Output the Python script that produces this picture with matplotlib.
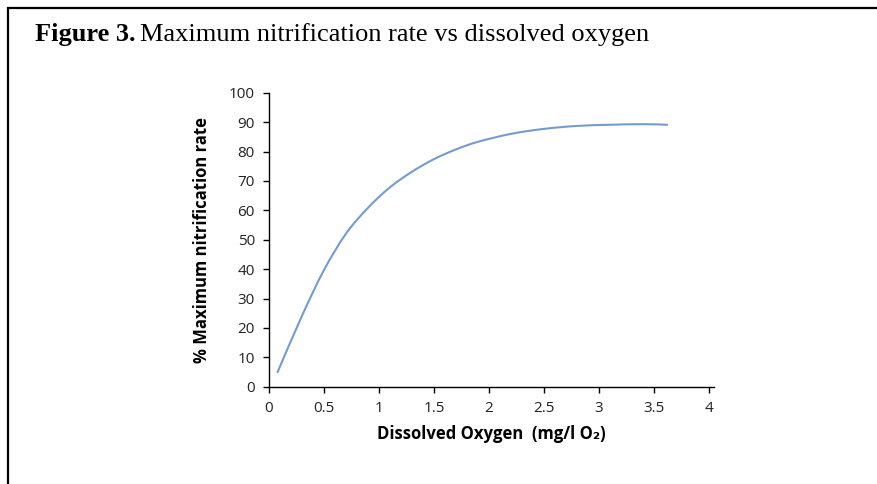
import matplotlib
matplotlib.use("Agg")
import matplotlib.pyplot as plt
from matplotlib.lines import Line2D
from matplotlib.path import Path
from matplotlib.patches import PathPatch

# Data
oxygen = [0.08, 0.3, 0.5, 0.7, 0.9, 1.1, 1.3, 1.5, 1.7, 1.9,
          2.2, 2.5, 2.8, 3.1, 3.4, 3.62]
rate = [5.0, 24.0, 39.6, 52.0, 60.8, 67.8, 73.1, 77.4, 80.7, 83.3,
        86.0, 87.7, 88.7, 89.1, 89.3, 89.1]
x_ticks = [0, 0.5, 1, 1.5, 2, 2.5, 3, 3.5, 4]
x_tick_labels = ["0", "0.5", "1", "1.5", "2", "2.5", "3", "3.5", "4"]
y_ticks = [0, 10, 20, 30, 40, 50, 60, 70, 80, 90, 100]

W, H = 878, 484
fig = plt.figure(figsize=(W / 100, H / 100), dpi=100)
fig.patch.set_facecolor("white")

# frame border (top and left)
fig.add_artist(Line2D([8 / W, 8 / W, 1.0], [0.0, 1 - 8 / H, 1 - 8 / H],
                      transform=fig.transFigure, color="black", lw=1.6,
                      solid_joinstyle="miter"))

# title
t1 = fig.text(35 / W, 1 - 35 / H, "Figure 3.", family="Liberation Serif",
              fontweight="bold", fontsize=19, va="center", ha="left")
fig.canvas.draw()
bb = t1.get_window_extent()
fig.text((bb.x1 + 5) / W, 1 - 35 / H, "Maximum nitrification rate vs dissolved oxygen",
         family="Liberation Serif", fontsize=19, va="center", ha="left")

x0_px, x4_px, xend_px = 268.8, 709.0, 714.0
y0_px, y100_px = 386.8, 92.7
ax = fig.add_axes([x0_px / W, 1 - y0_px / H, (xend_px - x0_px) / W, (y0_px - y100_px) / H])
xmax = 4 * (xend_px - x0_px) / (x4_px - x0_px)
ax.set_xlim(0, xmax)
ax.set_ylim(0, 100)

# smoothed line (Excel-style smoothing through the read points)
pts = list(zip(oxygen, rate))
n = len(pts)
verts = [pts[0]]
codes = [Path.MOVETO]
for i in range(n - 1):
    p0 = pts[i - 1] if i > 0 else pts[i]
    p1 = pts[i]
    p2 = pts[i + 1]
    p3 = pts[i + 2] if i + 2 < n else pts[i + 1]
    c1 = (p1[0] + (p2[0] - p0[0]) / 6, p1[1] + (p2[1] - p0[1]) / 6)
    c2 = (p2[0] - (p3[0] - p1[0]) / 6, p2[1] - (p3[1] - p1[1]) / 6)
    verts += [c1, c2, p2]
    codes += [Path.CURVE4] * 3
ax.add_patch(PathPatch(Path(verts, codes), facecolor="none", edgecolor="#749bd0",
                       lw=1.5, capstyle="round"))

ax.set_xticks(x_ticks)
ax.set_xticklabels(x_tick_labels)
ax.set_yticks(y_ticks)
for s in ("top", "right"):
    ax.spines[s].set_visible(False)
for s in ("left", "bottom"):
    ax.spines[s].set_linewidth(1.0)
    ax.spines[s].set_color("black")
ax.tick_params(direction="out", length=4, width=1.0, color="black",
               labelsize=11, labelcolor="#222222", pad=6)
for lab in ax.get_xticklabels() + ax.get_yticklabels():
    lab.set_family(["Open Sans", "DejaVu Sans"])

ax.set_xlabel("Dissolved Oxygen  (mg/l O₂)", family=["Open Sans", "DejaVu Sans"],
              fontweight="bold", fontsize=12, labelpad=7)
ax.set_ylabel("% Maximum nitrification rate", family=["Open Sans", "DejaVu Sans"],
              fontweight="bold", fontsize=12, labelpad=13)

fig.savefig("out.png", dpi=100)
